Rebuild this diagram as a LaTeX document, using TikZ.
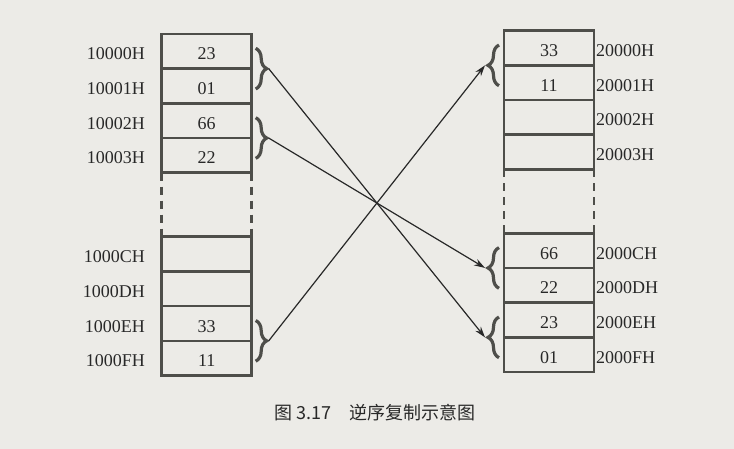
\documentclass[tikz,border=0pt]{standalone}
\usepackage{fontspec}
\setmainfont{Liberation Serif}
\newfontfamily\cjk{Noto Sans CJK SC}
\usetikzlibrary{positioning,decorations.pathreplacing,arrows.meta}
\definecolor{paper}{RGB}{236,235,231}
\definecolor{ink}{RGB}{78,78,74}
\definecolor{pen}{RGB}{40,40,40}

\begin{document}
\begin{tikzpicture}[x=1pt, y=-1pt, node distance=0pt, >={Stealth[length=11pt, width=7pt]},
    font=\fontsize{18}{20}\selectfont, text=pen,
    cell/.style={draw=ink, line width=2.6pt, minimum width=90pt, minimum height=34.7pt, inner sep=0pt, outer sep=0pt, text height=17pt, text depth=0pt},
    addr/.style={inner sep=0pt, text height=17pt, text depth=0pt},
    brc/.style={draw=ink, line width=3.2pt, decorate, decoration={brace, amplitude=11pt}},
    gap/.style={draw=ink, line width=2.6pt, dash pattern=on 8pt off 6pt}]
    \fill[paper] (0,0) rectangle (734,449);

    % source block, 10000H upwards
    \node[cell] (a0) at (206.7,51.3) {23};
    \node[cell] (a1) [below=of a0] {01};
    \node[cell] (a2) [below=of a1] {66};
    \node[cell] (a3) [below=of a2] {22};
    \node[cell] (aC) [below=64pt of a3] {};
    \node[cell] (aD) [below=of aC] {};
    \node[cell] (aE) [below=of aD] {33};
    \node[cell] (aF) [below=of aE] {11};
    \draw[gap] (a3.south west) -- (aC.north west);
    \draw[gap] (a3.south east) -- (aC.north east);

    \node[addr] [left=16.7pt of a0] {10000H};
    \node[addr] [left=16.7pt of a1] {10001H};
    \node[addr] [left=16.7pt of a2] {10002H};
    \node[addr] [left=16.7pt of a3] {10003H};
    \node[addr] [left=16.7pt of aC] {1000CH};
    \node[addr] [left=16.7pt of aD] {1000DH};
    \node[addr] [left=16.7pt of aE] {1000EH};
    \node[addr] [left=16.7pt of aF] {1000FH};

    % destination block, 20000H upwards
    \node[cell] (b0) [right=252.3pt of a0, yshift=3.3pt] {33};
    \node[cell] (b1) [below=of b0] {11};
    \node[cell] (b2) [below=of b1] {};
    \node[cell] (b3) [below=of b2] {};
    \node[cell] (bC) [below=63.8pt of b3] {66};
    \node[cell] (bD) [below=of bC] {22};
    \node[cell] (bE) [below=of bD] {23};
    \node[cell] (bF) [below=of bE] {01};
    \draw[gap] (b3.south west) -- (bC.north west);
    \draw[gap] (b3.south east) -- (bC.north east);

    \node[addr] [right=2pt of b0] {20000H};
    \node[addr] [right=2pt of b1] {20001H};
    \node[addr] [right=2pt of b2] {20002H};
    \node[addr] [right=2pt of b3] {20003H};
    \node[addr] [right=2pt of bC] {2000CH};
    \node[addr] [right=2pt of bD] {2000DH};
    \node[addr] [right=2pt of bE] {2000EH};
    \node[addr] [right=2pt of bF] {2000FH};

    % word braces
    \draw[brc] ([xshift=4pt, yshift=3pt]a0.east) -- coordinate[xshift=13pt] (pA) ([xshift=4pt, yshift=-3pt]a1.east);
    \draw[brc] ([xshift=4pt, yshift=3pt]a2.east) -- coordinate[xshift=13pt] (pB) ([xshift=4pt, yshift=-3pt]a3.east);
    \draw[brc] ([xshift=4pt, yshift=3pt]aE.east) -- coordinate[xshift=13pt] (pC) ([xshift=4pt, yshift=-3pt]aF.east);
    \draw[brc] ([xshift=-5pt, yshift=-3pt]b1.west) -- coordinate[xshift=-14pt] (qA) ([xshift=-5pt, yshift=3pt]b0.west);
    \draw[brc] ([xshift=-5pt, yshift=-3pt]bD.west) -- coordinate[xshift=-14pt] (qB) ([xshift=-5pt, yshift=3pt]bC.west);
    \draw[brc] ([xshift=-5pt, yshift=-3pt]bF.west) -- coordinate[xshift=-14pt] (qC) ([xshift=-5pt, yshift=3pt]bE.west);

    \draw[->, pen, line width=1.2pt] (pA) -- (qC);
    \draw[->, pen, line width=1.2pt] (pB) -- (qB);
    \draw[->, pen, line width=1.2pt] (pC) -- (qA);

    \node (cap) at (375,413) {\cjk\fontsize{18}{20}\selectfont 图 3.17\quad 逆序复制示意图};
\end{tikzpicture}
\end{document}
